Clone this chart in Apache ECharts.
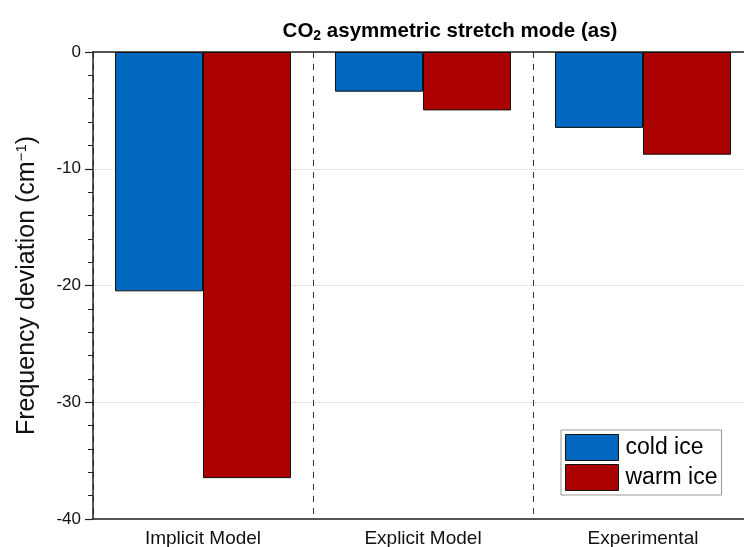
<!DOCTYPE html>
<html>
<head>
<meta charset="utf-8">
<script src="https://cdn.jsdelivr.net/npm/echarts@6/dist/echarts.min.js"></script>
<style>html,body{margin:0;padding:0;background:#fff;}#c{width:744px;height:547px;}</style>
</head>
<body>
<div id="c"></div>
<script>
const categories = ['Implicit Model', 'Explicit Model', 'Experimental'];
const coldIce = [-20.5, -3.4, -6.5];
const warmIce = [-36.5, -5.0, -8.8];
const seriesNames = ['cold ice', 'warm ice'];

const chart = echarts.init(document.getElementById('c'));
const font = '"Liberation Sans", Arial, sans-serif';
chart.setOption({
  animation: false,
  backgroundColor: '#fff',
  title: {
    text: '{a|CO}{s|2}{a| asymmetric stretch mode (as)}',
    left: 445, top: 14, textAlign: 'center',
    textStyle: {
      rich: {
        a: {fontSize: 20.5, fontWeight: 'bold', fontFamily: font, color: '#000'},
        s: {fontSize: 14, fontWeight: 'bold', fontFamily: font, color: '#000', padding: [10, 0, 0, 0]}
      }
    }
  },
  legend: {
    orient: 'vertical', left: 561, top: 430,
    itemWidth: 53, itemHeight: 26, itemGap: 3,
    padding: [4, 4, 4, 4],
    icon: 'rect',
    borderColor: '#999', borderWidth: 1,
    itemStyle: {borderWidth: 1, borderColor: '#111'},
    textStyle: {fontSize: 23, fontFamily: font, color: '#000', padding: [0, 0, 0, 2]},
    data: seriesNames
  },
  grid: {left: 93, top: 52, right: -9, bottom: 28, outerBoundsMode: 'none', containLabel: false},
  xAxis: [{
    type: 'category', data: categories, position: 'bottom',
    axisLine: {onZero: false, lineStyle: {color: '#222', width: 1.5}},
    axisTick: {show: false},
    axisLabel: {fontSize: 19, fontFamily: font, color: '#111', margin: 10},
    splitLine: {show: true, lineStyle: {color: '#333', type: [6, 6], width: 1}}
  }, {
    type: 'category', data: categories, position: 'top',
    axisLine: {onZero: false, lineStyle: {color: '#222', width: 1.5}},
    axisTick: {show: false}, axisLabel: {show: false}
  }],
  yAxis: {
    type: 'value', min: -40, max: 0, interval: 10,
    name: '{a|Frequency deviation (cm}{s|−1}{a|)}',
    nameLocation: 'middle', nameGap: 52,
    nameTextStyle: {
      rich: {
        a: {fontSize: 25, fontFamily: font, color: '#111'},
        s: {fontSize: 15, fontFamily: font, color: '#111', padding: [0, 0, 12, 0]}
      }
    },
    axisLine: {show: true, lineStyle: {color: '#222', width: 1.5}},
    axisTick: {show: true, length: 8, lineStyle: {color: '#222', width: 1.2}},
    minorTick: {show: true, splitNumber: 5, length: 5, lineStyle: {color: '#222', width: 1}},
    axisLabel: {fontSize: 17, fontFamily: font, color: '#111', margin: 12},
    splitLine: {show: true, lineStyle: {color: '#ccc', type: 'dotted', width: 1}}
  },
  series: [{
    name: seriesNames[0], type: 'bar', data: coldIce,
    barGap: '0%', barCategoryGap: '20%',
    itemStyle: {color: '#0068bf', borderColor: '#111', borderWidth: 1}
  }, {
    name: seriesNames[1], type: 'bar', data: warmIce,
    barGap: '0%', barCategoryGap: '20%',
    itemStyle: {color: '#aa0000', borderColor: '#111', borderWidth: 1}
  }]
});
</script>
</body>
</html>
